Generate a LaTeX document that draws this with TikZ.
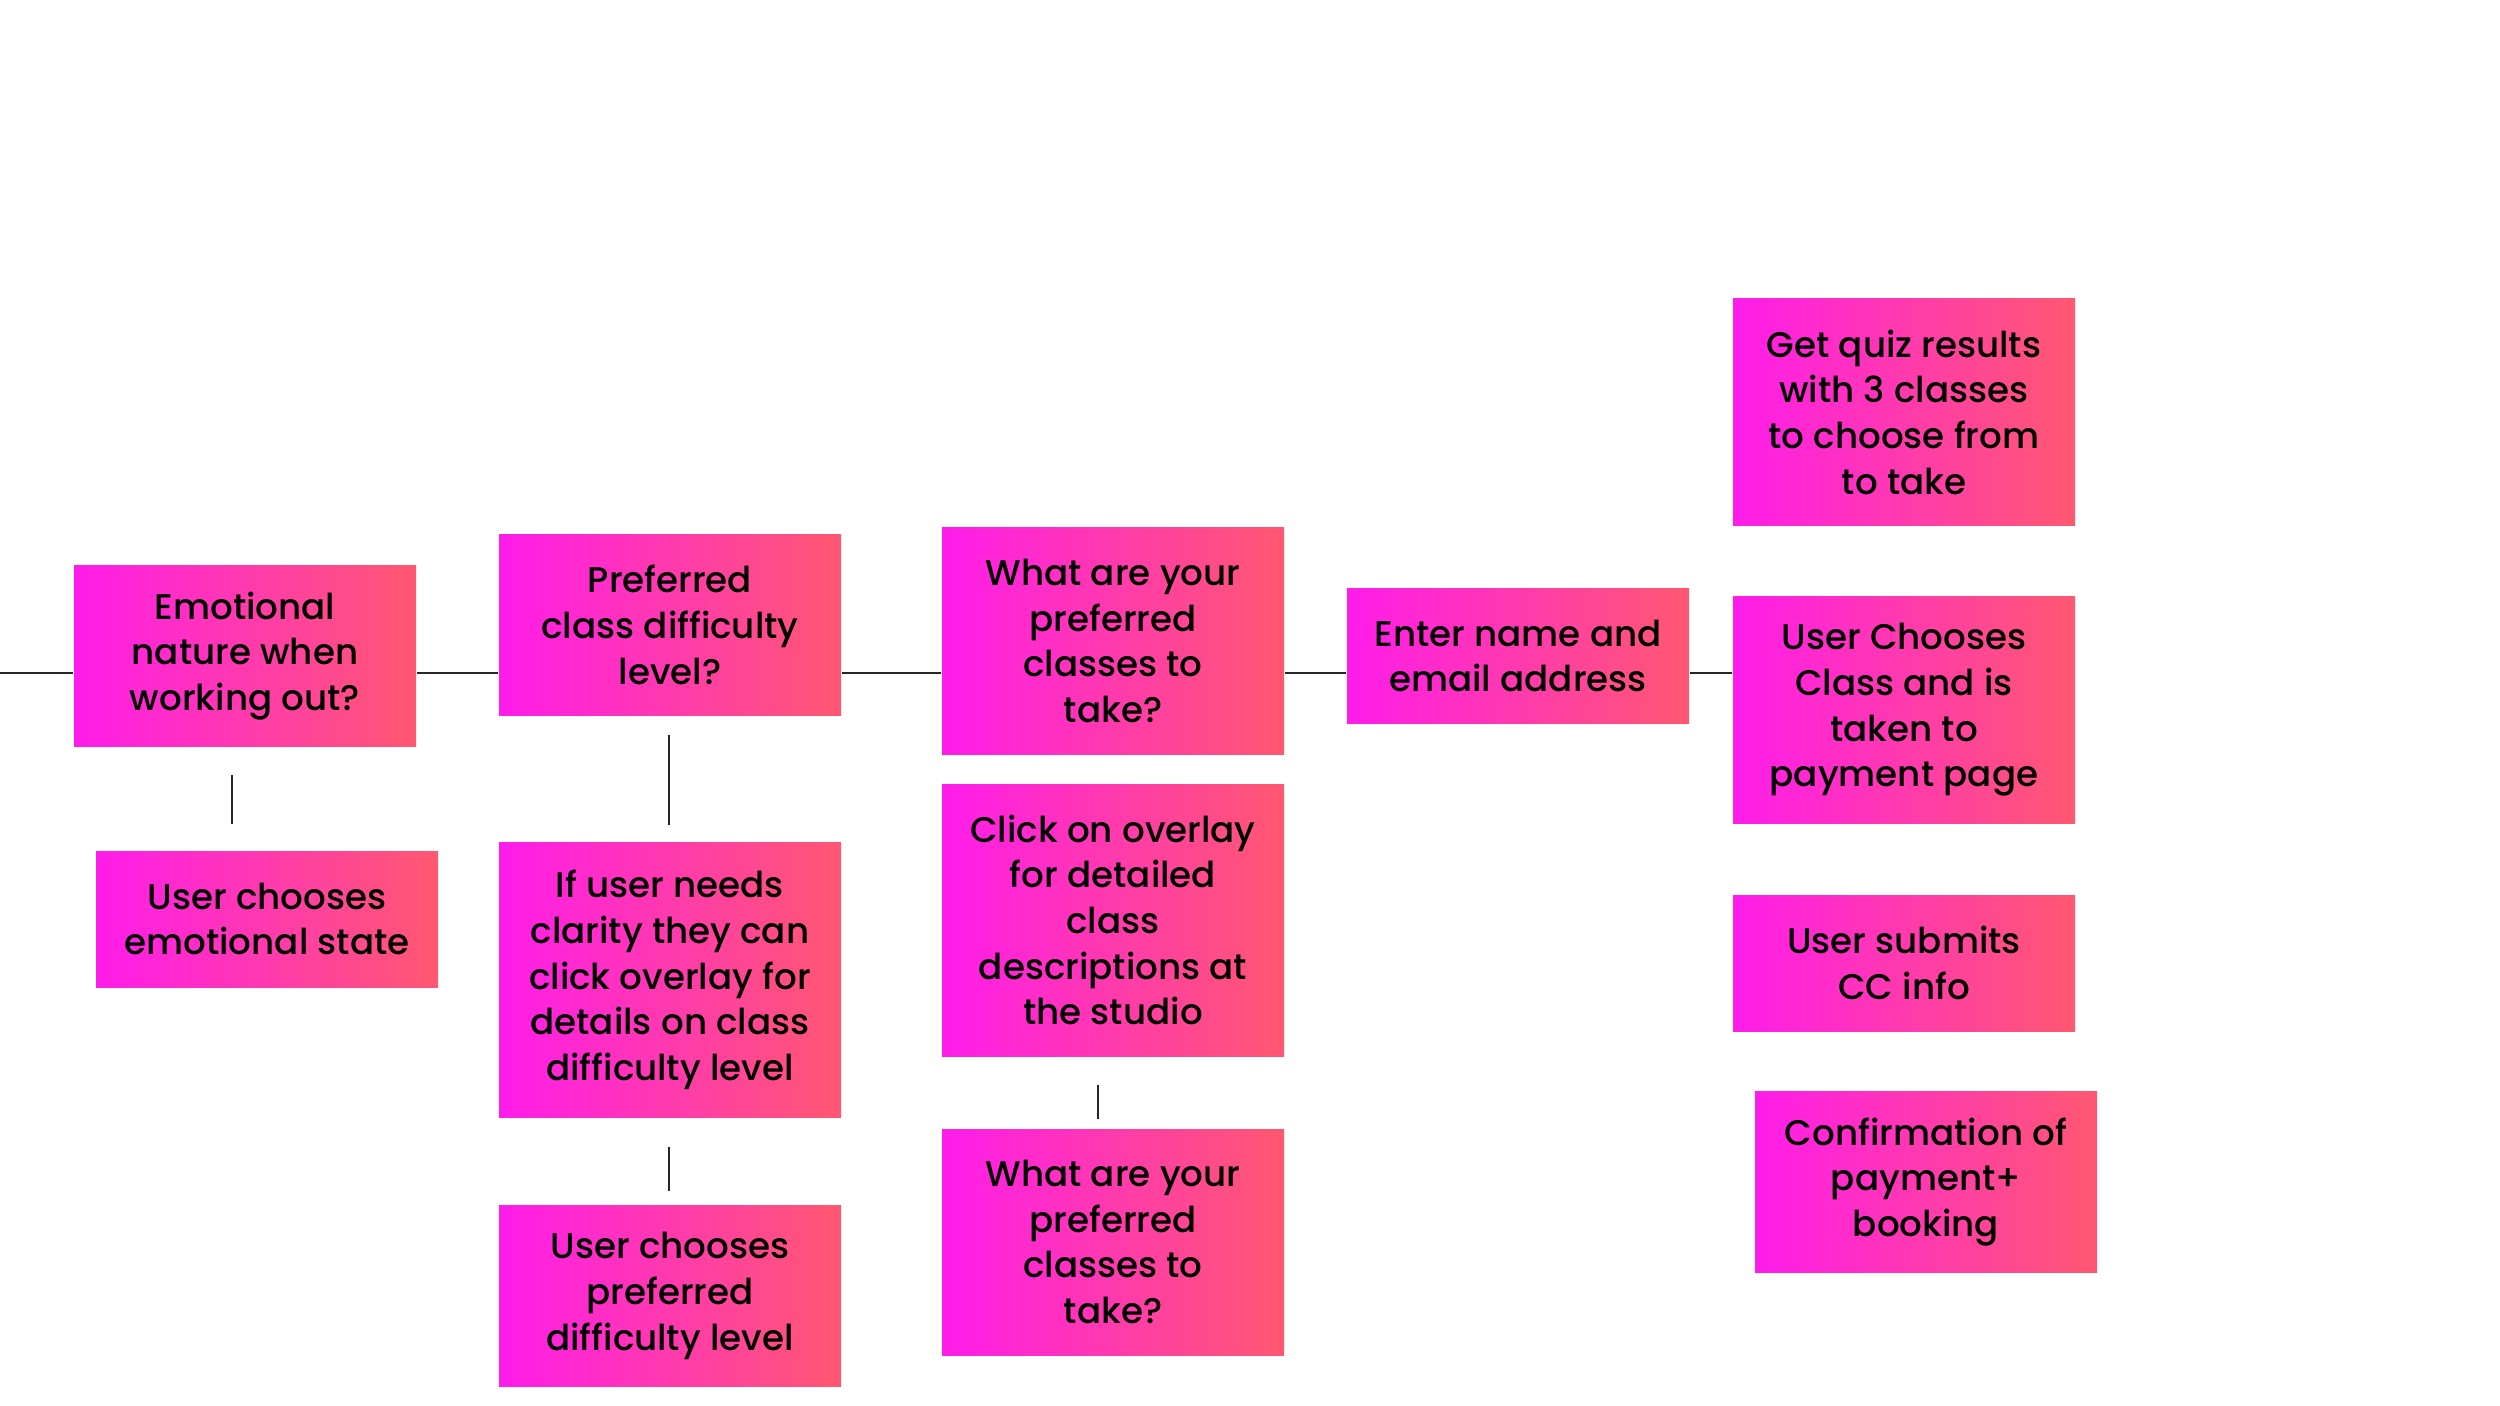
\documentclass[tikz,border=0pt]{standalone}
\usepackage{fontspec}
\setmainfont{Poppins}[UprightFont=* Medium]
\definecolor{magL}{RGB}{255,28,235}
\definecolor{magR}{RGB}{255,88,112}
\tikzset{
  card/.style={rectangle, minimum width=102.6pt, inner sep=0pt, align=center,
    left color=magL, right color=magR, draw=none,
    font=\fontsize{10.7}{13.7}\selectfont},
  link/.style={line width=0.45pt, black!85}
}
\begin{document}
\begin{tikzpicture}[x=0.3pt,y=-0.3pt]
            \useasboundingbox (0,0) rectangle (2500,1406);
            \node[card, minimum height=54.3pt] (emo) at (245,656) {Emotional\\nature when\\working out?};
            \node[card, minimum height=40.8pt] (emostate) at (267,919) {User chooses\\emotional state};
            \node[card, minimum height=54.3pt] (diff) at (670,625) {Preferred\\class difficulty\\level?};
            \node[card, minimum height=82.5pt] (clarity) at (670,980) {If user needs\\clarity they can\\click overlay for\\details on class\\difficulty level};
            \node[card, minimum height=54.3pt] (diffpick) at (670,1296) {User chooses\\preferred\\difficulty level};
            \node[card, minimum height=68.1pt] (classes) at (1113,641) {What are your\\preferred\\classes to\\take?};
            \node[card, minimum height=81.6pt] (overlay) at (1113,920) {Click on overlay\\for detailed\\class\\descriptions at\\the studio};
            \node[card, minimum height=67.8pt] (classestwo) at (1113,1242) {What are your\\preferred\\classes to\\take?};
            \node[card, minimum height=40.5pt] (email) at (1518,656) {Enter name and\\email address};
            \node[card, minimum height=68.1pt] (quiz) at (1904,412) {Get quiz results\\with 3 classes\\to choose from\\to take};
            \node[card, minimum height=68.1pt] (pay) at (1904,710) {User Chooses\\Class and is\\taken to\\payment page};
            \node[card, minimum height=40.8pt] (cc) at (1904,963) {User submits\\CC info};
            \node[card, minimum height=54.3pt] (confirm) at (1926,1182) {Confirmation of\\payment+\\booking};
            \coordinate (trunk) at (0,673);
            \draw[link] (trunk) -- (trunk -| emo.west);
            \draw[link] (emo.east |- trunk) -- (diff.west |- trunk);
            \draw[link] (diff.east |- trunk) -- (classes.west |- trunk);
            \draw[link] (classes.east |- trunk) -- (email.west |- trunk);
            \draw[link] (email.east |- trunk) -- (pay.west |- trunk);
            \foreach \x/\ya/\yb in {232/775/824, 669/735/825, 669/1147/1191, 1098/1085/1119}
                \draw[link] (\x,\ya) -- (\x,\yb);
        \end{tikzpicture}
\end{document}
